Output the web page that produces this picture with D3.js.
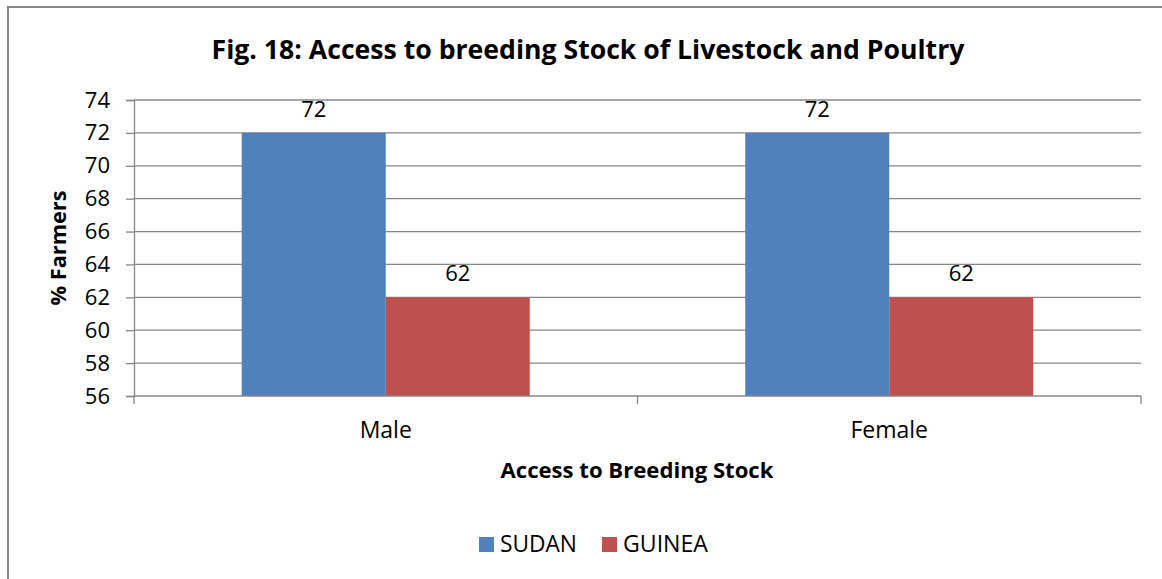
<!DOCTYPE html>
<html><head><meta charset="utf-8">
<script src="https://cdn.jsdelivr.net/npm/d3@7"></script>
<style>body{margin:0;background:#fff}svg{display:block}text{font-family:"Open Sans",sans-serif;fill:#000}</style>
</head><body>
<script>
const categories = ["Male", "Female"];
const seriesNames = ["SUDAN", "GUINEA"];
const sudanValues = [72, 72];
const guineaValues = [62, 62];
const yTicks = [56, 58, 60, 62, 64, 66, 68, 70, 72, 74];
const colors = ["#4F81BD", "#C0504D"];
const titleText = "Fig. 18: Access to breeding Stock of Livestock and Poultry";
const xTitle = "Access to Breeding Stock";
const yTitle = "% Farmers";

(function () {
const W = 1162, H = 579;
const svg = d3.select("body").append("svg").attr("width", W).attr("height", H);
svg.append("rect").attr("x", 8).attr("y", 7).attr("width", W).attr("height", H)
  .attr("fill", "#fff").attr("stroke", "#888").attr("stroke-width", 2);

// scale font so that text reaches a target width
function fit(sel, target) {
  const fs = +sel.attr("font-size");
  const w = sel.node().getComputedTextLength();
  if (w > 0) sel.attr("font-size", (fs * target / w).toFixed(2));
  return sel;
}

const pl = 134, pr = 1141, pt = 100, pb = 396;
const x0 = d3.scaleBand().domain(categories).range([pl, pr]).paddingInner(0.428).paddingOuter(0.214);
const x1 = d3.scaleBand().domain(seriesNames).range([0, x0.bandwidth()]);
const y = d3.scaleLinear().domain([56, 74]).range([pb, pt]);

svg.append("g").selectAll("line").data(yTicks.slice(1)).join("line")
  .attr("x1", pl).attr("x2", pr).attr("y1", d => y(d)).attr("y2", d => y(d))
  .attr("stroke", "#878787").attr("stroke-width", 1.3);

const series = [sudanValues, guineaValues];
categories.forEach((c, i) => {
  seriesNames.forEach((s, j) => {
    const v = series[j][i];
    svg.append("rect").attr("x", x0(c) + x1(s)).attr("y", y(v))
      .attr("width", x1.bandwidth()).attr("height", y(56) - y(v)).attr("fill", colors[j]);
    svg.append("text").attr("x", x0(c) + x1(s) + x1.bandwidth() / 2).attr("y", y(v) - 16)
      .attr("text-anchor", "middle").attr("font-size", 22).text(v);
  });
});

const yAxis = svg.append("g").attr("transform", `translate(${pl},0)`)
  .call(d3.axisLeft(y).tickValues(yTicks).tickSize(8).tickPadding(16));
yAxis.select(".domain").attr("stroke", "#878787").attr("stroke-width", 1.3);
yAxis.selectAll(".tick line").attr("stroke", "#878787").attr("stroke-width", 1.3);
yAxis.selectAll("text").attr("font-size", 22).attr("font-family", "Open Sans").attr("fill", "#000");

const xAxis = svg.append("g").attr("transform", `translate(0,${pb})`);
xAxis.append("line").attr("x1", pl).attr("x2", pr).attr("stroke", "#878787").attr("stroke-width", 1.3);
const bounds = [pl, (pl + pr) / 2, pr];
xAxis.selectAll("line.t").data(bounds).join("line").attr("class", "t")
  .attr("x1", d => d).attr("x2", d => d).attr("y1", 0).attr("y2", 8)
  .attr("stroke", "#878787").attr("stroke-width", 1.3);
xAxis.selectAll("text").data(categories).join("text")
  .attr("x", d => x0(d) + x0.bandwidth() / 2).attr("y", 42)
  .attr("text-anchor", "middle").attr("font-size", 23).text(d => d);

fit(svg.append("text").attr("x", 588).attr("y", 59).attr("text-anchor", "middle")
  .attr("font-size", 25).attr("font-weight", "bold").text(titleText), 753);
fit(svg.append("text").attr("x", 637).attr("y", 478).attr("text-anchor", "middle")
  .attr("font-size", 21).attr("font-weight", "bold").text(xTitle), 273);
fit(svg.append("text").attr("transform", `translate(66,248) rotate(-90)`)
  .attr("text-anchor", "middle").attr("font-size", 21).attr("font-weight", "bold").text(yTitle), 115);

const legendX = [479, 602];
const legendW = [77, 85];
seriesNames.forEach((s, j) => {
  svg.append("rect").attr("x", legendX[j]).attr("y", 537).attr("width", 15).attr("height", 15).attr("fill", colors[j]);
  fit(svg.append("text").attr("x", legendX[j] + 21).attr("y", 552).attr("font-size", 22).text(s), legendW[j]);
});
})();
</script>
</body></html>
